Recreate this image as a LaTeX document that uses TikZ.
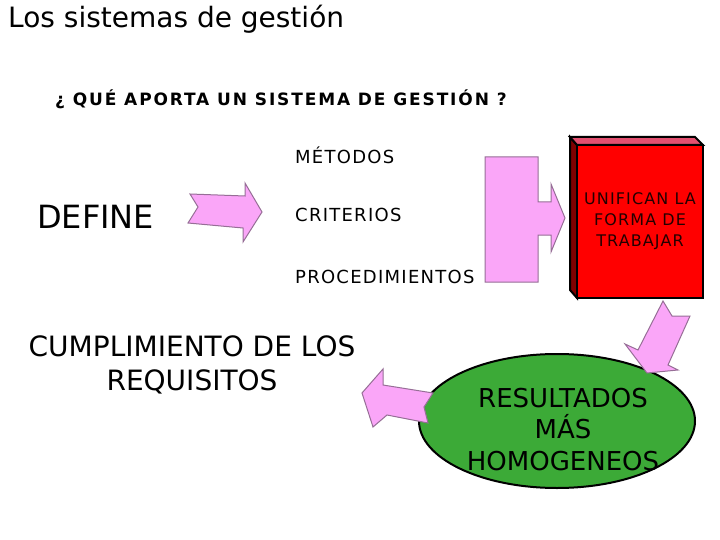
\documentclass[tikz,border=0pt]{standalone}
\usepackage{fontspec}
\setmainfont{DejaVu Sans}
\newfontfamily\widefont[LetterSpace=7]{DejaVu Sans}
\newfontfamily\widebold[LetterSpace=11]{DejaVu Sans Bold}
\usepackage{tikz}
\usetikzlibrary{shapes.geometric}
\definecolor{pinkarrow}{RGB}{250,166,248}
\definecolor{pinkedge}{RGB}{150,110,150}
\definecolor{boxred}{RGB}{255,0,0}
\definecolor{boxtop}{RGB}{228,80,112}
\definecolor{boxside}{RGB}{128,0,0}
\definecolor{ovalgreen}{RGB}{60,170,55}
\definecolor{boxtext}{RGB}{35,0,0}
\newcommand{\fs}[2]{\fontsize{#1}{#2}\selectfont}

\begin{document}
\begin{tikzpicture}[x=1pt,y=-1pt,
    blockarrow/.style={fill=pinkarrow,draw=pinkedge,line width=1pt,line join=miter},
    boxface/.style={draw=black,line width=2pt,line join=miter},
    listitem/.style={anchor=base west,inner sep=0pt,font=\widefont\fs{18}{21}}]
    \useasboundingbox (0,0) rectangle (720,540);

    \node[anchor=base west,inner sep=0pt] (title) at (8,28) {\fs{28}{33}Los sistemas de gestión};
    \node[anchor=base west,inner sep=0pt] (question) at (55,106) {\widebold\fs{17}{20}¿ QUÉ APORTA UN SISTEMA DE GESTIÓN ?};

    \node[anchor=base west,inner sep=0pt] (define) at (37,229) {\fs{32}{38}DEFINE};
    \node[listitem] (metodos) at (295,164) {MÉTODOS};
    \node[listitem] (criterios) at (295,222) {CRITERIOS};
    \node[listitem] (proced) at (295,283) {PROCEDIMIENTOS};

    % caja roja
    \draw[boxface,fill=boxside] (577,145) -- (570,137) -- (570,290) -- (577,298) -- cycle;
    \draw[boxface,fill=boxtop] (577,145) -- (570,137) -- (695,137) -- (703,145) -- cycle;
    \node[boxface,fill=boxred,minimum width=126,minimum height=153,inner sep=0pt,
        align=center,text=boxtext,font=\widefont\fs{16}{21}] (book) at (640,221.5)
        {UNIFICAN LA\\FORMA DE\\TRABAJAR};

    \node[draw=black,line width=2pt,fill=ovalgreen,ellipse,minimum width=276,
        minimum height=134,inner sep=0pt] (oval) at (557,421) {};
    \node[anchor=base,inner sep=0pt,align=center,font=\fs{26}{31.5}] (result) at (563,470)
        {RESULTADOS\\MÁS\\HOMOGENEOS};

    \node[anchor=base,inner sep=0pt,align=center,font=\fs{28}{34}] (cumpl) at (192,390)
        {CUMPLIMIENTO DE LOS\\REQUISITOS};

    % flechas
    \draw[blockarrow] (190,194) -- (198,207) -- (188,223) -- (243,228) -- (243,242)
        -- (262,212) -- (245,183) -- (245,196) -- cycle;
    \draw[blockarrow] (485,157) -- (538,157) -- (538,202) -- (551,202) -- (551,184)
        -- (565,218) -- (551,252) -- (551,235) -- (538,235) -- (538,282) -- (485,282) -- cycle;
    \draw[blockarrow] (663,301) -- (672,316) -- (690,316) -- (668,365) -- (678,370)
        -- (647,373) -- (625,344) -- (638,350) -- cycle;
    \draw[blockarrow] (362,393) -- (383,369) -- (383,385) -- (433,393) -- (424,407)
        -- (428,423) -- (387,415) -- (373,427) -- cycle;
\end{tikzpicture}
\end{document}
